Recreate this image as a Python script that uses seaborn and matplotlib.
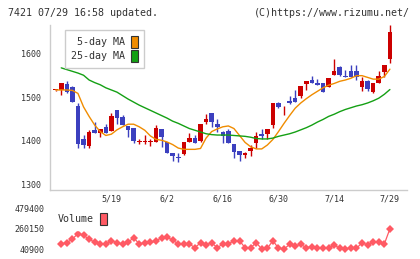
import numpy as np
import pandas as pd
import seaborn as sns
import matplotlib.pyplot as plt
from matplotlib.patches import Patch

# candle data (trading days 5/1 .. 7/29)
opens = [1517, 1517, 1531, 1525, 1480, 1404, 1388, 1425, 1418, 1432,
         1423, 1471, 1454, 1434, 1430, 1398, 1398, 1398, 1398, 1428,
         1398, 1372, 1362, 1369, 1398, 1407, 1400, 1444, 1463, 1438,
         1419, 1422, 1392, 1376, 1368, 1376, 1395, 1415, 1415, 1436,
         1486, 1479, 1491, 1499, 1503, 1530, 1540, 1534, 1533, 1523,
         1552, 1571, 1550, 1560, 1561, 1525, 1537, 1513, 1533, 1559,
         1588]
highs = [1518, 1533, 1538, 1527, 1488, 1413, 1425, 1444, 1427, 1438,
         1464, 1471, 1459, 1434, 1430, 1404, 1413, 1403, 1437, 1428,
         1398, 1372, 1371, 1398, 1418, 1413, 1438, 1461, 1463, 1449,
         1423, 1426, 1392, 1376, 1375, 1390, 1419, 1426, 1428, 1486,
         1490, 1481, 1502, 1517, 1526, 1537, 1549, 1542, 1533, 1545,
         1588, 1573, 1563, 1575, 1575, 1546, 1540, 1533, 1561, 1575,
         1667]
lows = [1515, 1506, 1510, 1489, 1384, 1382, 1384, 1417, 1408, 1418,
        1423, 1438, 1436, 1409, 1395, 1392, 1392, 1387, 1398, 1386,
        1372, 1353, 1351, 1367, 1398, 1394, 1398, 1438, 1432, 1419,
        1394, 1394, 1361, 1354, 1359, 1365, 1382, 1403, 1405, 1430,
        1475, 1459, 1484, 1490, 1499, 1518, 1534, 1528, 1513, 1523,
        1552, 1549, 1546, 1548, 1541, 1515, 1515, 1511, 1533, 1546,
        1580]
closes = [1517, 1532, 1513, 1490, 1392, 1390, 1421, 1418, 1427, 1418,
          1457, 1452, 1436, 1425, 1399, 1399, 1399, 1399, 1430, 1409,
          1372, 1365, 1361, 1398, 1407, 1394, 1438, 1450, 1444, 1432,
          1411, 1394, 1375, 1367, 1371, 1382, 1411, 1411, 1428, 1486,
          1478, 1480, 1486, 1490, 1526, 1537, 1534, 1528, 1513, 1545,
          1561, 1552, 1546, 1548, 1548, 1537, 1520, 1533, 1550, 1575,
          1651]
ma5 = [1517, 1517, 1517, 1516, 1509, 1478, 1456, 1436, 1421, 1412,
       1415, 1425, 1432, 1438, 1438, 1432, 1424, 1411, 1403, 1401,
       1397, 1391, 1383, 1380, 1380, 1380, 1382, 1406, 1421, 1427,
       1432, 1434, 1428, 1412, 1396, 1386, 1381, 1381, 1390, 1403,
       1421, 1440, 1458, 1475, 1487, 1497, 1506, 1514, 1522, 1528,
       1532, 1537, 1540, 1544, 1550, 1550, 1546, 1542, 1542, 1548,
       1565]
ma25 = [np.nan, 1568, 1564, 1560, 1556, 1551, 1540, 1534, 1529, 1522,
        1517, 1512, 1504, 1496, 1489, 1482, 1476, 1470, 1464, 1458,
        1452, 1445, 1440, 1434, 1428, 1424, 1420, 1416, 1414, 1413,
        1413, 1413, 1412, 1411, 1410, 1408, 1405, 1404, 1404, 1406,
        1410, 1413, 1416, 1420, 1425, 1430, 1436, 1443, 1449, 1456,
        1461, 1467, 1472, 1476, 1480, 1483, 1487, 1492, 1498, 1507,
        1518]
volume = [np.nan, 95700, 110000, 150000, 210000, 190000, 150000, 114000, 95700, 95700,
          132000, 110000, 92000, 114000, 165000, 95700, 110000, 114000, 128600, 165000,
          169000, 139600, 95700, 92000, 95700, 55000, 110000, 84700, 110000, 55000,
          95700, 95700, 132000, 132000, 55000, 55000, 110000, 40900, 48600, 132000,
          48600, 40900, 92000, 73800, 92000, 55000, 66000, 48600, 48600, 48600,
          84700, 48600, 40900, 55000, 48600, 110000, 84700, 121000, 121000, 95700,
          262000]
tick_idx = [10, 20, 30, 40, 50, 60]
tick_labels = ['5/19', '6/2', '6/16', '6/30', '7/14', '7/29']
vol_ticks = [40900, 260150, 479400]

df = pd.DataFrame({'o': opens, 'h': highs, 'l': lows, 'c': closes,
                   'ma5': ma5, 'ma25': ma25, 'vol': volume})
df['i'] = np.arange(len(df))

sns.set_style('white')
plt.rcParams['font.family'] = ['DejaVu Sans Mono']

RED = '#cc0000'
BLUE = '#3c40bf'
ORANGE = '#f08c00'
GREEN = '#14a014'
VOLC = '#ff5a64'
GRID = '#cccccc'
TXT = '#333333'

W, H = 420, 259
fig = plt.figure(figsize=(W / 100, H / 100), dpi=100)
ax = fig.add_axes([50 / W, 1 - 190 / H, 356.5 / W, 165 / H])
axv = fig.add_axes([50 / W, 1 - 253 / H, 356.5 / W, 48 / H])

# candles
up = df['c'] >= df['o']
colors = np.where(up, RED, BLUE)
body_low = np.minimum(df['o'], df['c'])
body_h = np.maximum(np.abs(df['c'] - df['o']), 2)
ax.vlines(df['i'], df['l'], df['h'], colors=colors, lw=1, zorder=3)
ax.bar(df['i'], body_h, bottom=body_low, width=0.82, color=colors, lw=0, zorder=4)

sns.lineplot(data=df, x='i', y='ma5', ax=ax, color=ORANGE, lw=1, zorder=5)
sns.lineplot(data=df, x='i', y='ma25', ax=ax, color=GREEN, lw=1, zorder=5)

ax.set_xlim(-1.02, 62.98)
ax.set_ylim(1286.2, 1666.9)
ax.set_yticks([1300, 1400, 1500, 1600])
ax.set_xticks(tick_idx)
ax.set_xticklabels(tick_labels)
ax.set_xticks(np.linspace(-1.02, 62.98, 12), minor=True)
ax.tick_params(axis='y', direction='inout', length=7, width=1, color=GRID,
               labelsize=6, labelcolor=TXT, pad=3)
ax.tick_params(axis='x', which='major', length=0, labelsize=6, labelcolor=TXT, pad=3.5)
ax.tick_params(axis='x', which='minor', direction='inout', length=6, width=1, color=GRID)
ax.set_xlabel('')
ax.set_ylabel('')
for s in ['top', 'right']:
    ax.spines[s].set_visible(False)
for s in ['left', 'bottom']:
    ax.spines[s].set_color(GRID)
    ax.spines[s].set_linewidth(1)

leg = ax.legend(handles=[Patch(fc=ORANGE, ec=TXT, lw=0.8), Patch(fc=GREEN, ec=TXT, lw=0.8)],
                labels=['5-day MA', '25-day MA'], markerfirst=False,
                loc='upper left', bbox_to_anchor=(15 / 356.5, 1 - 5 / 165),
                frameon=True, fancybox=False, framealpha=1, edgecolor=GRID,
                fontsize=7.2, handlelength=0.7, handleheight=1.4, handletextpad=0.6,
                borderpad=0.6, labelspacing=0.25, borderaxespad=0)
for t in leg.get_texts():
    t.set_color(TXT)
leg.get_frame().set_linewidth(1)

# volume
sns.lineplot(data=df.dropna(subset=['vol']), x='i', y='vol', ax=axv, color=VOLC, lw=0.9,
             marker='D', markersize=4.2, markeredgewidth=0, markerfacecolor=VOLC)
axv.set_xlim(-1.02, 62.98)
axv.set_ylim(-2948, 523248)
axv.set_yticks(vol_ticks)
axv.set_yticklabels([str(v) for v in vol_ticks])
axv.set_xticks([])
axv.tick_params(axis='y', length=0, labelsize=6, labelcolor=TXT, pad=4)
axv.set_xlabel('')
axv.set_ylabel('')
for s in axv.spines.values():
    s.set_visible(False)
axv.patch.set_alpha(0)

vleg = axv.legend(handles=[Patch(fc=VOLC, ec=TXT, lw=0.8)], labels=['Volume'],
                  markerfirst=False, loc='upper left',
                  bbox_to_anchor=(3 / 356.5, 1 - 3 / 48),
                  frameon=True, fancybox=False, framealpha=1, edgecolor='white',
                  fontsize=7.2, handlelength=0.7, handleheight=1.5, handletextpad=0.6,
                  borderpad=0.5, borderaxespad=0)
for t in vleg.get_texts():
    t.set_color(TXT)

fig.text(8 / W, 1 - 12.5 / H, '7421 07/29 16:58 updated.', fontsize=7.2,
         color=TXT, va='center', ha='left')
fig.text(410 / W, 1 - 12.5 / H, '(C)https://www.rizumu.net/', fontsize=7.2,
         color=TXT, va='center', ha='right')

fig.savefig('out.png', dpi=100)
